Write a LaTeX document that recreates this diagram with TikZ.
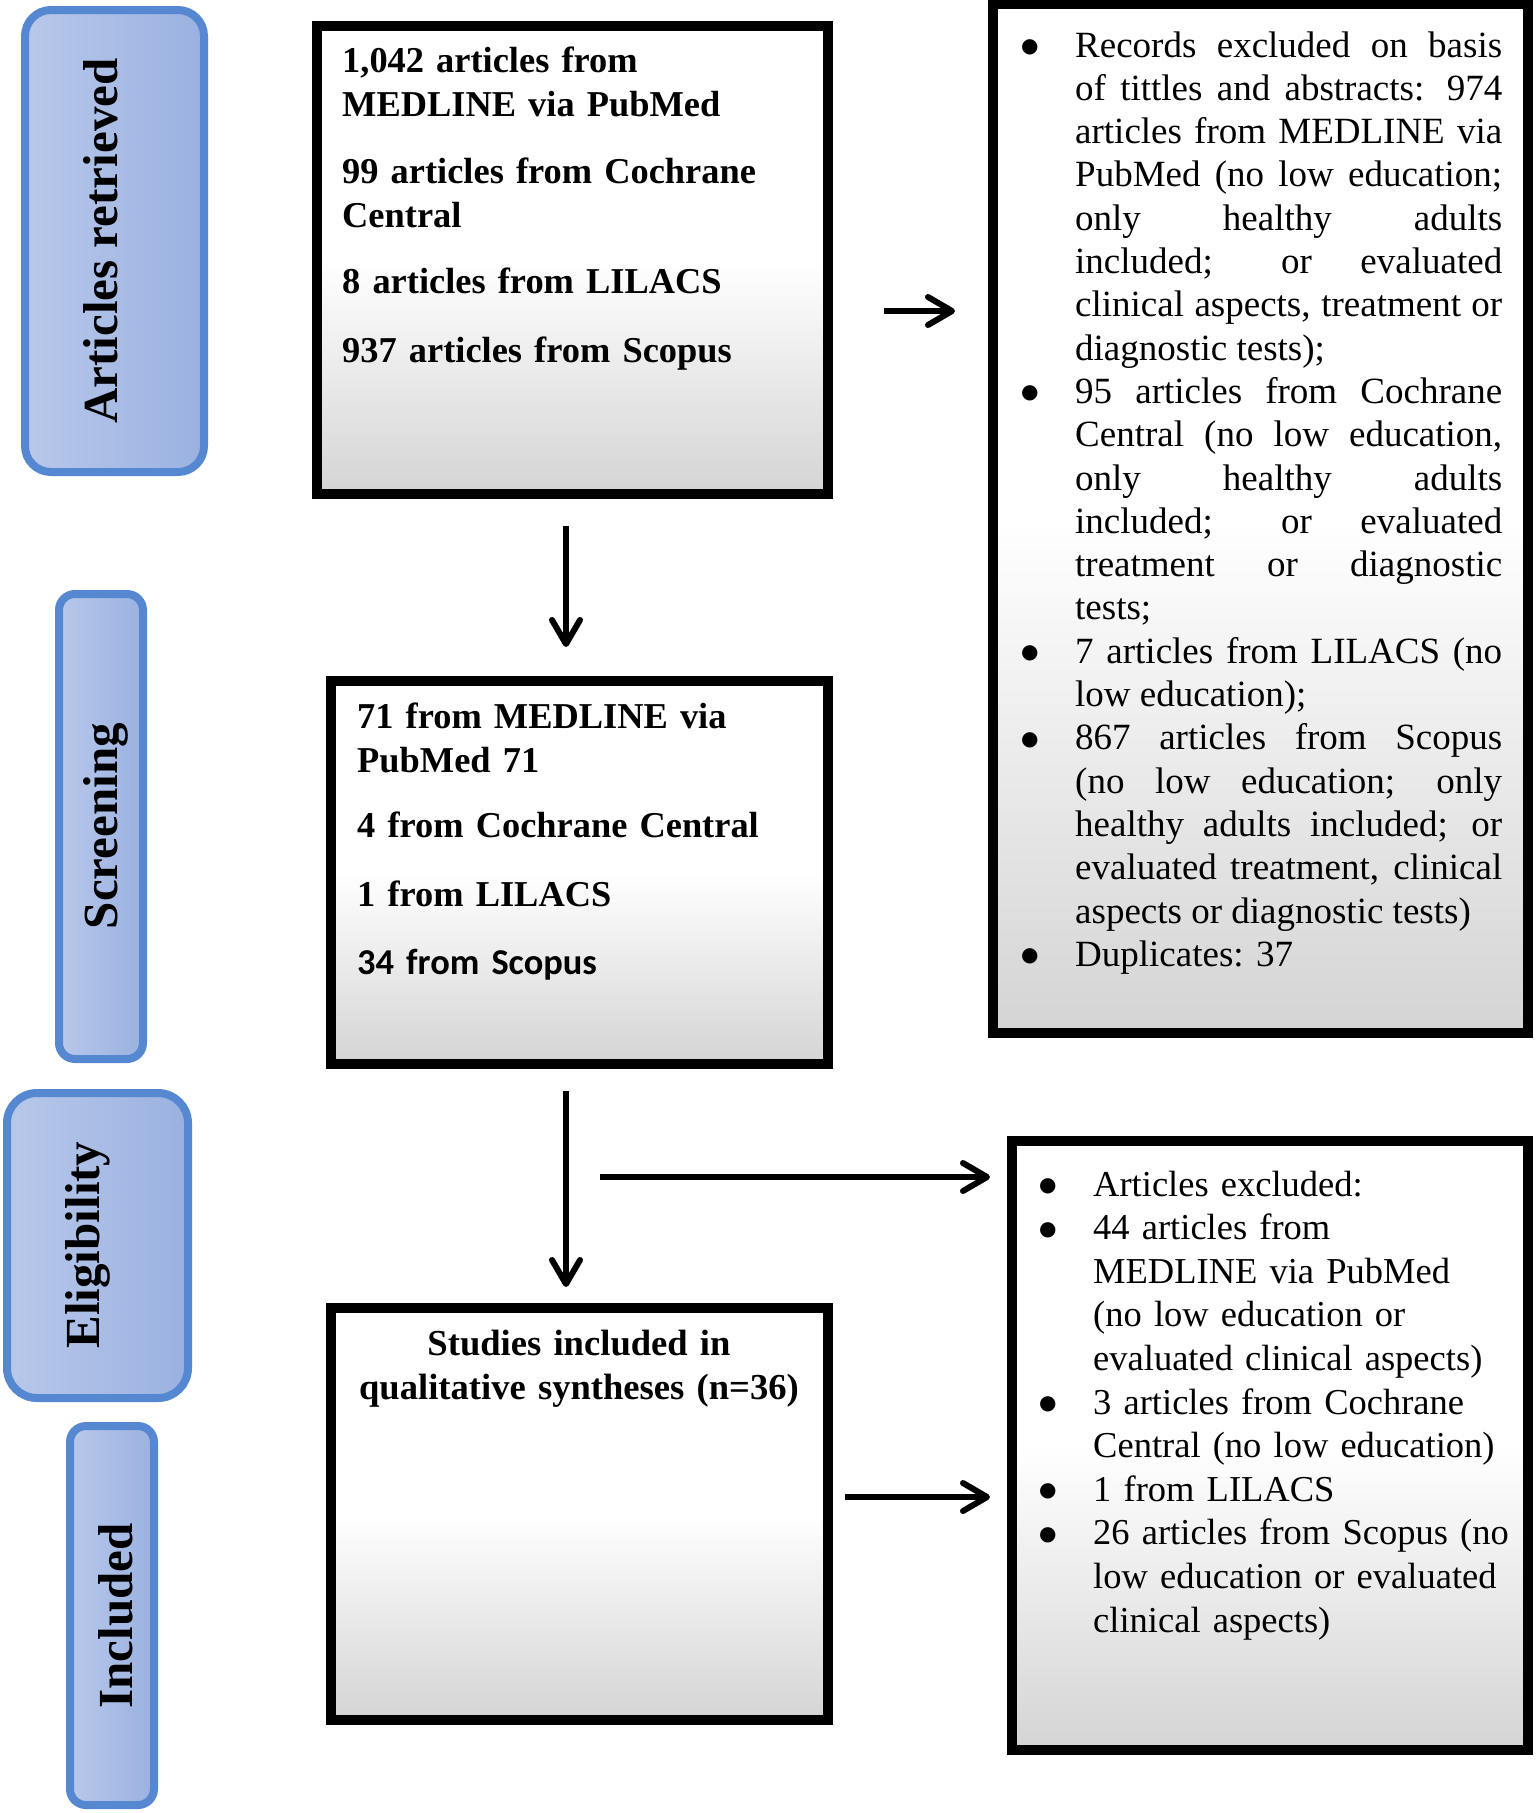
\documentclass[tikz,border=0pt]{standalone}
\usepackage{fontspec}
\usepackage{graphicx}
\setmainfont{Liberation Serif}
\newfontfamily\carlito{Carlito}
\newfontfamily\bulfont{DejaVu Sans}
\usetikzlibrary{arrows.meta}
\definecolor{tabborder}{RGB}{86,136,210}
\definecolor{tableft}{RGB}{184,200,234}
\definecolor{tabright}{RGB}{154,177,224}
\definecolor{boxgrey}{RGB}{212,212,212}
\newcommand{\bigbul}{\raisebox{4.5pt}{\bulfont\fontsize{20}{20}\selectfont ●}}
\newcommand{\mybulA}{\leavevmode\llap{\makebox[54pt][l]{\hspace{0pt}\bigbul}}}
\newcommand{\mybulB}{\leavevmode\llap{\makebox[53pt][l]{\hspace{-1pt}\bigbul}}}
\hbadness=10000
\begin{document}
\begin{tikzpicture}[x=1pt,y=-1pt,
  tabbox/.style={draw=tabborder, line width=8pt, left color=tableft, right color=tabright, inner sep=0pt},
  tablab/.style={font=\fontsize{49}{55}\selectfont\bfseries, rotate=90, inner sep=0pt},
  flowbox/.style={draw=black, line width=10pt, top color=white, bottom color=boxgrey, middle color=white, inner sep=0pt},
  boxtxt/.style={font=\fontsize{36.4}{44}\selectfont\bfseries, anchor=base west, inner sep=0pt, align=left, text width=470pt},
  arr/.style={line width=6pt, -{Straight Barb[length=24pt,width=28pt,round]}}
]
\useasboundingbox (0,0) rectangle (1535,1813);

% stage tabs
\node[tabbox, rounded corners=26pt, minimum width=179pt, minimum height=462pt] (tab1) at (114.5,241) {};
\node[tabbox, rounded corners=16pt, minimum width=84pt, minimum height=465pt] (tab2) at (101,826.5) {};
\node[tabbox, rounded corners=30pt, minimum width=181pt, minimum height=305pt] (tab3) at (97.5,1245.5) {};
\node[tabbox, rounded corners=16pt, minimum width=84pt, minimum height=379pt] (tab4) at (112,1615.5) {};
\node[tablab] (lab1) at (101,241) {Articles retrieved};
\node[tablab] (lab2) at (106,826) {Screening};
\node[tablab] (lab3) at (88,1245) {Eligibility};
\node[tablab] (lab4) at (116,1616) {Included};

% flow boxes
\node[flowbox, minimum width=511pt, minimum height=468pt] (b1) at (572.5,260) {};
\node[flowbox, minimum width=497pt, minimum height=383pt] (b2) at (579.5,872.5) {};
\node[flowbox, minimum width=497pt, minimum height=412pt] (b3) at (579.5,1514) {};
\node[flowbox, minimum width=535pt, minimum height=1029pt] (r1) at (1260.5,518.5) {};
\node[flowbox, minimum width=516pt, minimum height=609pt] (r2) at (1270,1445.5) {};

% box 1 text
\node[boxtxt] (b1a) at (342,72) {1,042 articles from\\MEDLINE via PubMed};
\node[boxtxt] (b1b) at (342,183) {99 articles from Cochrane\\Central};
\node[boxtxt] (b1c) at (342,293) {8 articles from LILACS};
\node[boxtxt] (b1d) at (342,362) {937 articles from Scopus};

% box 2 text
\node[boxtxt] (b2a) at (357,728) {71 from MEDLINE via\\PubMed 71};
\node[boxtxt] (b2b) at (357,837) {4 from Cochrane Central};
\node[boxtxt] (b2c) at (357,906) {1 from LILACS};
\node[boxtxt] (b2d) at (357,974) {\carlito\bfseries 34 from Scopus};

% box 3 text
\node[font=\fontsize{36.6}{44}\selectfont\bfseries, anchor=base, inner sep=0pt, align=center, text width=480pt] (b3a) at (579,1355) {Studies included in\\qualitative syntheses (n=36)};

% right box 1 text
\node[font=\fontsize{37}{43.3}\selectfont, anchor=base west, inner sep=0pt, align=justify, text width=427pt] (r1t) at (1075,57) {%
\mybulA Records excluded on basis\linebreak of tittles and abstracts: 974\linebreak articles from MEDLINE via\linebreak PubMed (no low education;\linebreak only healthy adults\linebreak included; or evaluated\linebreak clinical aspects, treatment or\linebreak diagnostic tests);\par
\mybulA 95 articles from Cochrane\linebreak Central (no low education,\linebreak only healthy adults\linebreak included; or evaluated\linebreak treatment or diagnostic\linebreak tests;\par
\mybulA 7 articles from LILACS (no\linebreak low education);\par
\mybulA 867 articles from Scopus\linebreak (no low education; only\linebreak healthy adults included; or\linebreak evaluated treatment, clinical\linebreak aspects or diagnostic tests)\par
\mybulA Duplicates: 37};

% right box 2 text
\node[font=\fontsize{36.5}{43.6}\selectfont, anchor=base west, inner sep=0pt, align=left, text width=440pt] (r2t) at (1093,1196) {%
\mybulB Articles excluded:\par
\mybulB 44 articles from\\MEDLINE via PubMed\\(no low education or\\evaluated clinical aspects)\par
\mybulB 3 articles from Cochrane\\Central (no low education)\par
\mybulB 1 from LILACS\par
\mybulB 26 articles from Scopus (no\\low education or evaluated\\clinical aspects)};

% arrows
\coordinate (a1s) at (566,526);
\coordinate (a1e) at (566,647);
\coordinate (a2s) at (566,1091);
\coordinate (a2e) at (566,1287);
\coordinate (a3s) at (884,311);
\coordinate (a3e) at (955,311);
\coordinate (a4s) at (600,1177);
\coordinate (a4e) at (990,1177);
\coordinate (a5s) at (845,1497);
\coordinate (a5e) at (990,1497);
\draw[arr] (a1s) -- (a1e);
\draw[arr] (a2s) -- (a2e);
\draw[arr] (a3s) -- (a3e);
\draw[arr] (a4s) -- (a4e);
\draw[arr] (a5s) -- (a5e);
\end{tikzpicture}
\end{document}
